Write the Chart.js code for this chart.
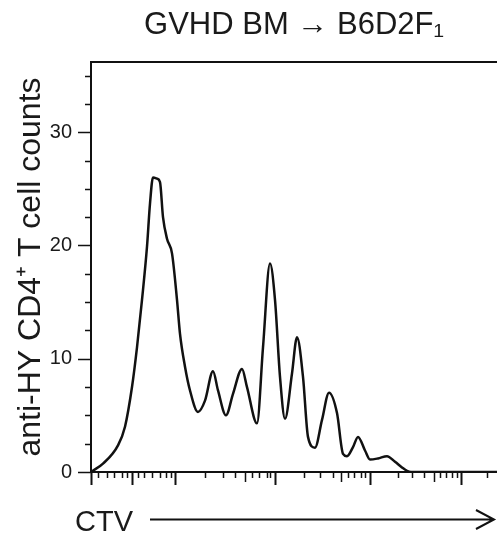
<!DOCTYPE html>
<html>
<head>
<meta charset="utf-8">
<script src="https://cdn.jsdelivr.net/npm/chart.js@4"></script>
<style>
  html, body { margin: 0; padding: 0; background: #fff; overflow: hidden; }
  #wrap { width: 497px; height: 538px; position: relative; }
</style>
</head>
<body>
<div id="wrap"><canvas id="c"></canvas></div>
<script>
// ---- data ----
const chartTitle = 'GVHD BM \u2192 B6D2F\u2081';
const yAxisTitle = 'anti-HY CD4\u207A T cell counts';
const xAxisTitle = 'CTV';

// CTV channel (display units along the x axis) and cell counts
const ctvChannel = [0, 12, 27, 34, 41, 46, 51, 56, 59, 62, 66, 69, 72, 76, 81, 86, 89, 94, 99, 107,
  114, 122, 127, 135, 142, 151, 156, 166, 172, 179, 184, 189, 194, 201, 206, 212, 217, 224, 231,
  238, 246, 252, 256, 262, 267, 274, 279, 287, 296, 304, 311, 316, 320, 406];
const cellCounts = [0, 0.74, 2.35, 4.0, 7.5, 11.0, 15.2, 19.9, 23.7, 26.0, 25.9, 25.6, 22.5, 20.6,
  19.3, 15.2, 12.2, 9.3, 7.2, 5.3, 6.3, 8.9, 7.2, 5.0, 6.9, 9.1, 7.5, 4.3, 11.0, 18.4, 15.2, 8.4,
  4.7, 8.7, 11.9, 8.4, 3.1, 2.15, 4.6, 7.0, 5.2, 1.6, 1.4, 2.2, 3.1, 1.9, 1.1, 1.2, 1.4, 0.9, 0.4,
  0.1, 0, 0];

const yTickValues = [0, 2.5, 5, 7.5, 10, 12.5, 15, 17.5, 20, 22.5, 25, 27.5, 30, 32.5, 35];
const yLabelledTicks = [0, 10, 20, 30];
const xMajorTicks = [0, 41, 84, 184, 279, 370];
const xMidTicks = [154, 250, 343];
const xMinorTicks = [7, 16, 23, 31, 36, 47, 53, 61, 69, 75, 80, 114, 132, 144, 161, 168, 176, 179,
  213, 229, 242, 257, 263, 270, 274, 307, 321, 333, 349, 355, 361, 366, 396];
const xMin = 0, xMax = 406, yMin = 0, yMax = 36.2;

const INK = '#111';
const FONT = '"Liberation Sans", Arial, Helvetica, sans-serif';

const decorations = {
  id: 'decorations',
  afterDraw(chart) {
    const {ctx, chartArea: a, scales: {x, y}} = chart;
    ctx.save();
    ctx.strokeStyle = INK;
    ctx.lineCap = 'butt';
    // top frame line
    ctx.lineWidth = 2;
    ctx.beginPath();
    ctx.moveTo(a.left - 1, a.top);
    ctx.lineTo(a.right, a.top);
    ctx.stroke();
    // x tick marks (below the axis)
    const xt = (vals, len, w) => {
      ctx.lineWidth = w;
      ctx.beginPath();
      vals.forEach(v => {
        const px = Math.round(x.getPixelForValue(v)) + 0.5;
        ctx.moveTo(px, a.bottom);
        ctx.lineTo(px, a.bottom + len);
      });
      ctx.stroke();
    };
    xt(xMinorTicks, 6, 1.5);
    xt(xMidTicks, 10, 1.5);
    xt(xMajorTicks, 13, 2);
    // y tick marks (left of the axis)
    ctx.lineWidth = 1.5;
    ctx.beginPath();
    yTickValues.forEach(v => {
      const py = Math.round(y.getPixelForValue(v)) + 0.5;
      const len = yLabelledTicks.includes(v) ? 13 : 6;
      ctx.moveTo(a.left, py);
      ctx.lineTo(a.left - len, py);
    });
    ctx.stroke();
    // x axis label and arrow
    ctx.fillStyle = '#1a1a1a';
    ctx.font = '29px ' + FONT;
    ctx.textBaseline = 'alphabetic';
    ctx.textAlign = 'left';
    ctx.fillText(xAxisTitle, 75, 531);
    ctx.lineWidth = 2;
    ctx.beginPath();
    ctx.moveTo(150, 519.5);
    ctx.lineTo(494, 519.5);
    ctx.moveTo(476, 510);
    ctx.lineTo(494, 519.5);
    ctx.lineTo(476, 529);
    ctx.stroke();
    ctx.restore();
  }
};

new Chart(document.getElementById('c'), {
  type: 'line',
  data: {
    datasets: [{
      data: ctvChannel.map((v, i) => ({x: v, y: cellCounts[i]})),
      borderColor: INK,
      borderWidth: 2.5,
      pointRadius: 0,
      fill: false,
      cubicInterpolationMode: 'monotone'
    }]
  },
  options: {
    responsive: true,
    maintainAspectRatio: false,
    animation: false,
    layout: { padding: { left: 0, right: 0, top: 0, bottom: 0 } },
    plugins: {
      legend: { display: false },
      tooltip: { enabled: false },
      title: {
        display: true,
        text: chartTitle,
        fullSize: false,
        color: '#1a1a1a',
        font: { family: FONT, size: 31, weight: 'normal' },
        padding: { top: 6.5, bottom: 18.3 }
      }
    },
    scales: {
      x: {
        type: 'linear',
        min: xMin, max: xMax,
        grid: { display: false, drawTicks: false },
        ticks: { display: false },
        border: { display: true, color: INK, width: 2 },
        afterFit(s) { s.height = 66; }
      },
      y: {
        type: 'linear',
        min: yMin, max: yMax,
        grid: { display: false, drawTicks: false },
        border: { display: true, color: INK, width: 2 },
        afterBuildTicks(s) { s.ticks = yTickValues.map(v => ({value: v})); },
        ticks: {
          autoSkip: false,
          padding: 19,
          color: '#1a1a1a',
          font: { family: FONT, size: 20 },
          callback: v => yLabelledTicks.includes(v) ? String(v) : ''
        },
        title: {
          display: true,
          text: yAxisTitle,
          color: '#1a1a1a',
          font: { family: FONT, size: 32, weight: 'normal' },
          padding: { top: 12, bottom: 0 }
        },
        afterFit(s) { s.width = 91; }
      }
    }
  },
  plugins: [decorations]
});
</script>
</body>
</html>
